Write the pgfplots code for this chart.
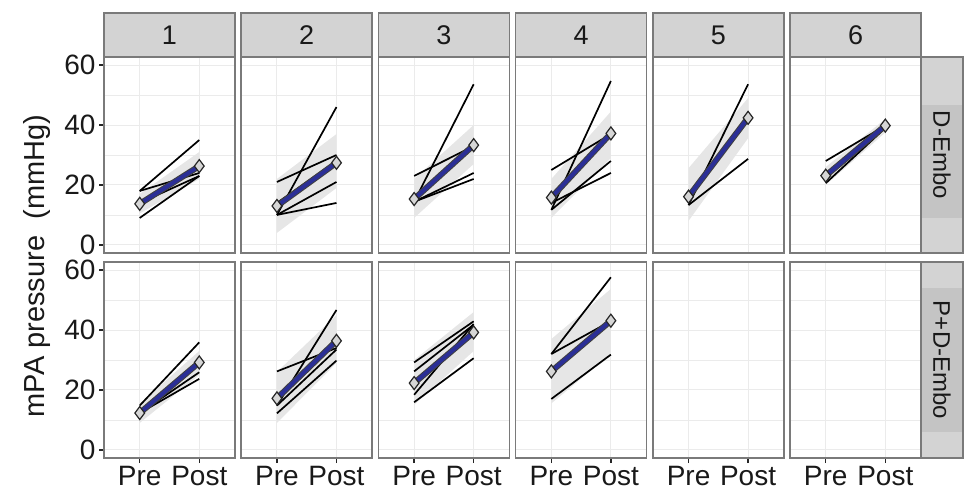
\documentclass[border=0pt]{standalone}
\usepackage{pgfplots}
\pgfplotsset{compat=1.18}
\usepackage{fontspec}
\setmainfont{Liberation Sans}

\definecolor{meanblue}{HTML}{2B2F96}
\definecolor{frame}{HTML}{7A7A7A}
\definecolor{stripfill}{HTML}{D3D3D3}
\definecolor{stripdark}{HTML}{C4C4C4}
\definecolor{gridc}{HTML}{EBEBEB}
\definecolor{bandc}{HTML}{E6E6E6}

\pgfplotsset{
  panel/.style={
    scale only axis, width=131pt, height=196pt, anchor=south west,
    xmin=0.4, xmax=2.6, ymin=-2.7, ymax=62.7,
    xtick={1,2}, ytick={0,20,40,60}, minor ytick={10,30,50},
    xticklabels={}, yticklabels={},
    grid=both,
    major grid style={gridc, line width=1pt},
    minor grid style={gridc, line width=0.6pt},
    axis line style={frame, line width=1.6pt},
    tick align=outside, xtick pos=bottom, ytick pos=left,
    major tick length=5pt, minor tick length=0pt,
    xtick style={draw=none}, ytick style={draw=none},
    tick label style={font=\fontsize{28}{30}\selectfont, text=black!90},
  },
  ylab/.style={yticklabels={0,20,40,60}, ytick style={draw=black!85, line width=1.4pt}},
  xlab/.style={xticklabels={Pre,Post}, xtick style={draw=black!85, line width=1.4pt}},
  subj/.style={black, line width=1.7pt},
  band/.style={fill=bandc, draw=none},
  meanout/.style={black!75, line width=6pt},
  meanin/.style={meanblue, line width=4pt, mark=diamond*, mark size=6.5pt,
    mark options={fill=black!16, draw=black!85, line width=1.2pt}},
}

\begin{document}
\begin{tikzpicture}[x=1pt, y=1pt]
\useasboundingbox (0,0) rectangle (968,498);

% ---------------- top row: D-Embo ----------------
\begin{axis}[panel, ylab, at={(104pt,245pt)}]
  \addplot[band] coordinates {(1,10.5) (2,22) (2,31) (1,17)} -- cycle;
  \addplot[subj] coordinates {(1,18) (2,35)};
  \addplot[subj] coordinates {(1,18) (2,24)};
  \addplot[subj] coordinates {(1,13) (2,26)};
  \addplot[subj] coordinates {(1,14) (2,23)};
  \addplot[subj] coordinates {(1,9) (2,23)};
  \addplot[meanout] coordinates {(1,13.7) (2,26.3)};
  \addplot[meanin] coordinates {(1,13.7) (2,26.3)};
\end{axis}
\begin{axis}[panel, at={(241.2pt,245pt)}]
  \addplot[band] coordinates {(1,4) (2,19) (2,37) (1,22)} -- cycle;
  \addplot[subj] coordinates {(1,21) (2,30)};
  \addplot[subj] coordinates {(1,10) (2,46)};
  \addplot[subj] coordinates {(1,10) (2,21)};
  \addplot[subj] coordinates {(1,10) (2,14)};
  \addplot[subj] coordinates {(1,14) (2,28)};
  \addplot[meanout] coordinates {(1,13) (2,27.4)};
  \addplot[meanin] coordinates {(1,13) (2,27.4)};
\end{axis}
\begin{axis}[panel, at={(378.4pt,245pt)}]
  \addplot[band] coordinates {(1,9) (2,27) (2,40) (1,22)} -- cycle;
  \addplot[subj] coordinates {(1,23) (2,33)};
  \addplot[subj] coordinates {(1,14.4) (2,53.6)};
  \addplot[subj] coordinates {(1,14.4) (2,24)};
  \addplot[subj] coordinates {(1,14.4) (2,22)};
  \addplot[meanout] coordinates {(1,15.3) (2,33.3)};
  \addplot[meanin] coordinates {(1,15.3) (2,33.3)};
\end{axis}
\begin{axis}[panel, at={(515.6pt,245pt)}]
  \addplot[band] coordinates {(1,9) (2,29) (2,44.5) (1,22)} -- cycle;
  \addplot[subj] coordinates {(1,25) (2,37)};
  \addplot[subj] coordinates {(1,11.7) (2,54.7)};
  \addplot[subj] coordinates {(1,11.7) (2,28)};
  \addplot[subj] coordinates {(1,14) (2,24)};
  \addplot[subj] coordinates {(1,16) (2,37)};
  \addplot[meanout] coordinates {(1,15.8) (2,37.2)};
  \addplot[meanin] coordinates {(1,15.8) (2,37.2)};
\end{axis}
\begin{axis}[panel, at={(652.8pt,245pt)}]
  \addplot[band] coordinates {(1,8) (2,35.6) (2,49) (1,25.6)} -- cycle;
  \addplot[subj] coordinates {(1,13.3) (2,53.6)};
  \addplot[subj] coordinates {(1,13.3) (2,28.7)};
  \addplot[meanout] coordinates {(1,16.1) (2,42.4)};
  \addplot[meanin] coordinates {(1,16.1) (2,42.4)};
\end{axis}
\begin{axis}[panel, at={(790pt,245pt)}]
  \addplot[band] coordinates {(1,20) (2,37.5) (2,42) (1,26)} -- cycle;
  \addplot[subj] coordinates {(1,28) (2,39.8)};
  \addplot[subj] coordinates {(1,20.6) (2,39)};
  \addplot[meanout] coordinates {(1,23.1) (2,39.8)};
  \addplot[meanin] coordinates {(1,23.1) (2,39.8)};
\end{axis}

% ---------------- bottom row: P+D-Embo ----------------
\begin{axis}[panel, ylab, xlab, at={(104pt,40pt)}]
  \addplot[band] coordinates {(1,9) (2,25) (2,33) (1,15.5)} -- cycle;
  \addplot[subj] coordinates {(1,14.8) (2,35.9)};
  \addplot[subj] coordinates {(1,12.3) (2,25.9)};
  \addplot[subj] coordinates {(1,12.3) (2,23.7)};
  \addplot[subj] coordinates {(1,12) (2,29)};
  \addplot[meanout] coordinates {(1,12.3) (2,29.2)};
  \addplot[meanin] coordinates {(1,12.3) (2,29.2)};
\end{axis}
\begin{axis}[panel, xlab, at={(241.2pt,40pt)}]
  \addplot[band] coordinates {(1,9) (2,29) (2,45) (1,26)} -- cycle;
  \addplot[subj] coordinates {(1,26.2) (2,34)};
  \addplot[subj] coordinates {(1,14.8) (2,46.7)};
  \addplot[subj] coordinates {(1,14.8) (2,33.5)};
  \addplot[subj] coordinates {(1,12.2) (2,29.8)};
  \addplot[meanout] coordinates {(1,17.2) (2,36.4)};
  \addplot[meanin] coordinates {(1,17.2) (2,36.4)};
\end{axis}
\begin{axis}[panel, xlab, at={(378.4pt,40pt)}]
  \addplot[band] coordinates {(1,15) (2,33) (2,46) (1,30)} -- cycle;
  \addplot[subj] coordinates {(1,29.2) (2,42.9)};
  \addplot[subj] coordinates {(1,26.2) (2,41.8)};
  \addplot[subj] coordinates {(1,18.4) (2,42)};
  \addplot[subj] coordinates {(1,15.9) (2,30.6)};
  \addplot[meanout] coordinates {(1,22.3) (2,39.2)};
  \addplot[meanin] coordinates {(1,22.3) (2,39.2)};
\end{axis}
\begin{axis}[panel, xlab, at={(515.6pt,40pt)}]
  \addplot[band] coordinates {(1,15.5) (2,32) (2,53.7) (1,37)} -- cycle;
  \addplot[subj] coordinates {(1,32) (2,57.6)};
  \addplot[subj] coordinates {(1,32) (2,43)};
  \addplot[subj] coordinates {(1,17) (2,31.8)};
  \addplot[meanout] coordinates {(1,26.2) (2,43.1)};
  \addplot[meanin] coordinates {(1,26.2) (2,43.1)};
\end{axis}
\begin{axis}[panel, xlab, at={(652.8pt,40pt)}]
\end{axis}
\begin{axis}[panel, xlab, at={(790pt,40pt)}]
\end{axis}

% ---------------- facet strips ----------------
\foreach \x/\lab in {104/1, 241.2/2, 378.4/3, 515.6/4, 652.8/5, 790/6} {
  \draw[fill=stripfill, draw=frame, line width=1.6pt] (\x,441) rectangle ++(131,44);
  \node[font=\fontsize{27}{30}\selectfont, text=black!90] at (\x+65.5,463) {\lab};
}
\draw[fill=stripfill, draw=frame, line width=1.6pt] (921,245) rectangle (963,441);
\fill[stripdark] (922,280) rectangle (962,393);
\draw[draw=frame, line width=1.6pt] (921,245) rectangle (963,441);
\node[rotate=-90, font=\fontsize{24}{26}\selectfont, text=black!90] at (942,343) {D-Embo};
\draw[fill=stripfill, draw=frame, line width=1.6pt] (921,40) rectangle (963,236);
\fill[stripdark] (922,66) rectangle (962,210);
\draw[draw=frame, line width=1.6pt] (921,40) rectangle (963,236);
\node[rotate=-90, font=\fontsize{24}{26}\selectfont, text=black!90] at (942,138) {P+D-Embo};

% ---------------- y axis title ----------------
\node[rotate=90, font=\fontsize{29}{31}\selectfont, text=black!90] at (37,232) {mPA pressure\ \ (mmHg)};
\end{tikzpicture}
\end{document}
